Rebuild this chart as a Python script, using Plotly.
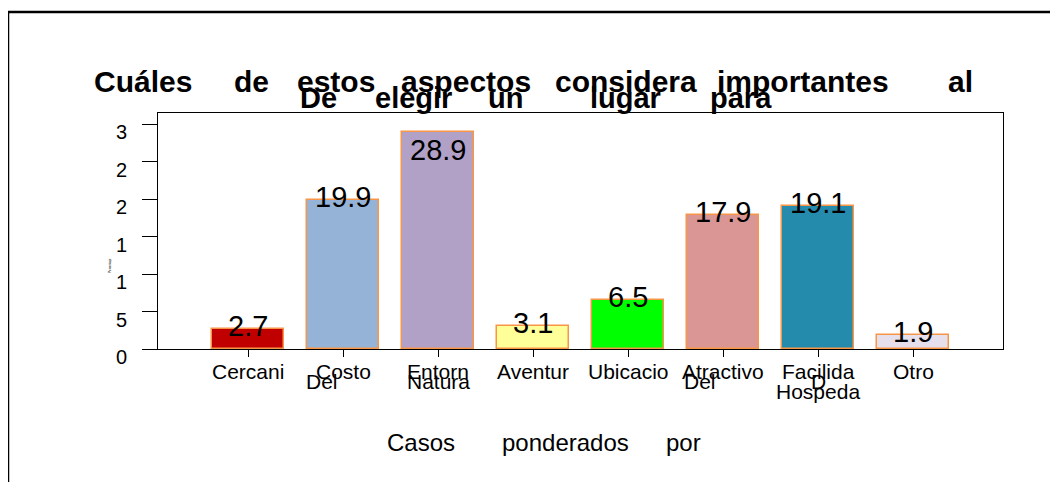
import plotly.graph_objects as go

# ---- data ----
categories = ["Cercani", "Costo", "Entorn", "Aventur", "Ubicacio", "Atractivo", "Facilida", "Otro"]
values = [2.7, 19.9, 28.9, 3.1, 6.5, 17.9, 19.1, 1.9]
value_labels = ["2.7", "19.9", "28.9", "3.1", "6.5", "17.9", "19.1", "1.9"]
extra_label_lines = [[], ["Del"], ["Natura"], [], [], ["Del"], ["D", "Hospeda"], []]
y_tick_vals = [0, 5, 10, 15, 20, 25, 30]
y_tick_text = ["0", "5", "1", "1", "2", "2", "3"]
title_line1 = ["Cuáles", "de", "estos", "aspectos", "considera", "importantes", "al"]
title_line2 = ["De", "elegir", "un", "lugar", "para"]
footer_words = ["Casos", "ponderados", "por"]
y_title = "Porcentaje"

# ---- styling / layout ----
bar_colors = ["#C00000", "#95B3D7", "#B2A1C7", "#FFFF99", "#00FF00", "#D99694", "#258BAC", "#E6E0EC"]
W, H = 1058, 482
OFF = 8  # page body margin compensation
L, R, T, B = 158 - OFF, 1003 - OFF, 113 - OFF, 349 - OFF   # plot area in figure pixels
pw, ph = R - L, B - T
FONT = "Liberation Sans, Arial, sans-serif"

def px2paper_x(px):
    return (px - OFF - L) / pw

def px2paper_y(py):
    return (B - (py - OFF)) / ph

x_center0, x_step = 248 - OFF, 95
x_range = [-(x_center0 - L) / x_step, -(x_center0 - L) / x_step + pw / x_step]
y_range = [0, ph / 7.5]

fig = go.Figure()
fig.add_trace(go.Bar(
    x=list(range(len(categories))), y=values, width=0.76,
    marker=dict(color=bar_colors, line=dict(color="#F79646", width=1.5)),
    hoverinfo="skip", showlegend=False,
))

ann = []
# value labels
for i, (v, t) in enumerate(zip(values, value_labels)):
    yv = min(v, 26.1)
    ann.append(dict(x=i, y=yv, xref="x", yref="y", text=t, showarrow=False,
                    yshift=3, font=dict(size=29, color="black", family=FONT),
                    xanchor="center", yanchor="middle"))

# x tick labels (multi-line, overlapping as in the reference)
line_centers = [371, 381, 391]
extra_shift = {("Costo", "Del"): -21, ("Atractivo", "Del"): -23}
for i, cat in enumerate(categories):
    lines = [cat] + extra_label_lines[i]
    for j, ln in enumerate(lines):
        ann.append(dict(x=i, y=px2paper_y(line_centers[j]), xref="x", yref="paper",
                        text=ln, showarrow=False,
                        xshift=extra_shift.get((cat, ln), 0),
                        font=dict(size=21, color="black", family=FONT),
                        xanchor="center", yanchor="middle"))

# y tick labels (offset below the ticks, as in reference)
for v, t in zip(y_tick_vals, y_tick_text):
    ann.append(dict(x=px2paper_x(129), y=v, xref="paper", yref="y", text=t,
                    showarrow=False, yshift=-8, xanchor="right", yanchor="middle",
                    font=dict(size=20, color="black", family=FONT)))

# tiny y title
ann.append(dict(x=px2paper_x(106), y=px2paper_y(266), xref="paper", yref="paper",
                text=y_title, showarrow=False, textangle=-90,
                font=dict(size=3, color="black", family=FONT)))

# title words
t1_x = [143, 251, 336, 466, 626, 803, 960]
t2_x = [318, 413, 505, 625, 741]
for w, xc in zip(title_line1, t1_x):
    ann.append(dict(x=px2paper_x(xc), y=px2paper_y(82), xref="paper", yref="paper",
                    text="<b>" + w + "</b>", showarrow=False, xanchor="center", yanchor="middle",
                    font=dict(size=30, color="black", family=FONT)))
for w, xc in zip(title_line2, t2_x):
    ann.append(dict(x=px2paper_x(xc), y=px2paper_y(98), xref="paper", yref="paper",
                    text="<b>" + w + "</b>", showarrow=False, xanchor="center", yanchor="middle",
                    font=dict(size=29, color="black", family=FONT)))

# footer words
f_x = [421, 565, 683]
for w, xc in zip(footer_words, f_x):
    ann.append(dict(x=px2paper_x(xc), y=px2paper_y(442), xref="paper", yref="paper",
                    text=w, showarrow=False, xanchor="center", yanchor="middle",
                    font=dict(size=24, color="black", family=FONT)))

shapes = [
    # outer frame (extends past right and bottom edges)
    dict(type="rect", xref="paper", yref="paper",
         x0=px2paper_x(8), x1=px2paper_x(1080), y0=px2paper_y(510), y1=px2paper_y(12),
         line=dict(color="black", width=2.5), fillcolor="rgba(0,0,0,0)", layer="above"),
]

fig.update_layout(
    width=W, height=H,
    margin=dict(l=L, r=W - R, t=T, b=H - B, pad=0),
    paper_bgcolor="white", plot_bgcolor="white",
    bargap=0,
    annotations=ann, shapes=shapes,
    xaxis=dict(range=x_range, tickvals=list(range(len(categories))), ticktext=[""] * len(categories),
               showticklabels=False, ticks="outside", ticklen=7, tickcolor="black", tickwidth=1,
               showline=True, linecolor="black", linewidth=1, mirror=True,
               showgrid=False, zeroline=False, fixedrange=True),
    yaxis=dict(range=y_range, tickvals=y_tick_vals, showticklabels=False,
               ticks="outside", ticklen=15, tickcolor="black", tickwidth=1,
               showline=True, linecolor="black", linewidth=1, mirror=True,
               showgrid=False, zeroline=False, fixedrange=True),
)

fig.write_html("out.html")
